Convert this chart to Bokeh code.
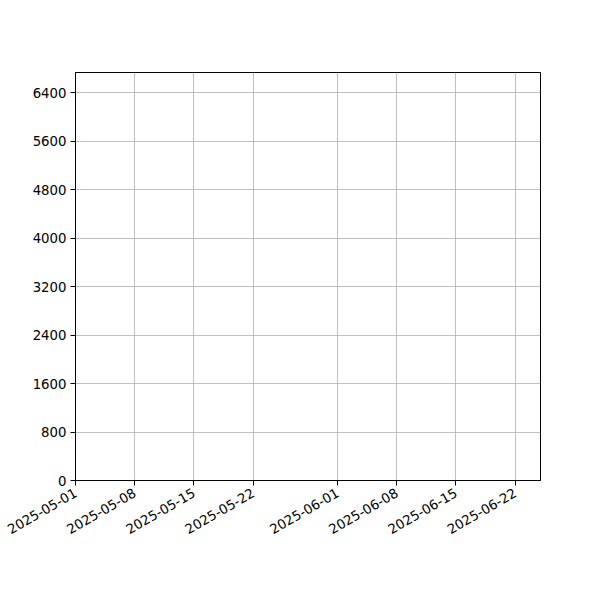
import math
from datetime import datetime
from bokeh.plotting import figure
from bokeh.models import Range1d, FixedTicker, DatetimeTickFormatter, ColumnDataSource
from bokeh.embed import file_html
from bokeh.resources import INLINE

# Data (the reference chart contains no plotted series)
dates = []
values = []

x_tick_labels = ["2025-05-01", "2025-05-08", "2025-05-15", "2025-05-22",
                 "2025-06-01", "2025-06-08", "2025-06-15", "2025-06-22"]
y_ticks = [0, 800, 1600, 2400, 3200, 4000, 4800, 5600, 6400]
x_start = "2025-05-01"
x_end = "2025-06-25"
y_start = 0
y_end = 6730


def ms(s):
    return datetime.strptime(s, "%Y-%m-%d").timestamp() * 1000.0 - datetime(1970, 1, 1).timestamp() * 1000.0


p = figure(
    width=584, height=584,
    x_axis_type="datetime",
    x_range=Range1d(ms(x_start), ms(x_end)),
    y_range=Range1d(y_start, y_end),
    output_backend="svg",
    toolbar_location=None,
    min_border_left=75, min_border_right=44, min_border_top=72, min_border_bottom=104,
)
p.frame_width = 465
p.frame_height = 408

src = ColumnDataSource(dict(x=dates, y=values))
p.line(x="x", y="y", source=src, line_color="#1f77b4", line_width=1.5)

p.xaxis.ticker = FixedTicker(ticks=[ms(t) for t in x_tick_labels])
p.xaxis.formatter = DatetimeTickFormatter(days="%Y-%m-%d", months="%Y-%m-%d", hours="%Y-%m-%d")
p.xaxis.major_label_orientation = math.radians(30)
p.yaxis.ticker = FixedTicker(ticks=y_ticks)

for ax in (p.xaxis, p.yaxis):
    ax.major_label_text_font = "DejaVu Sans"
    ax.major_label_text_font_size = "13.3px"
    ax.major_label_text_color = "black"
    ax.axis_line_color = "black"
    ax.major_tick_line_color = "black"
    ax.major_tick_out = 5
    ax.major_tick_in = 0
    ax.minor_tick_line_color = None
    ax.major_label_standoff = 4
p.xaxis.major_label_standoff = 6

p.xgrid.grid_line_color = "#b0b0b0"
p.ygrid.grid_line_color = "#b0b0b0"
p.xgrid.grid_line_width = 0.8
p.ygrid.grid_line_width = 0.8
p.outline_line_color = "black"
p.outline_line_width = 1
p.background_fill_color = "white"
p.border_fill_color = "white"

open("out.html", "w").write(file_html(p, INLINE))
